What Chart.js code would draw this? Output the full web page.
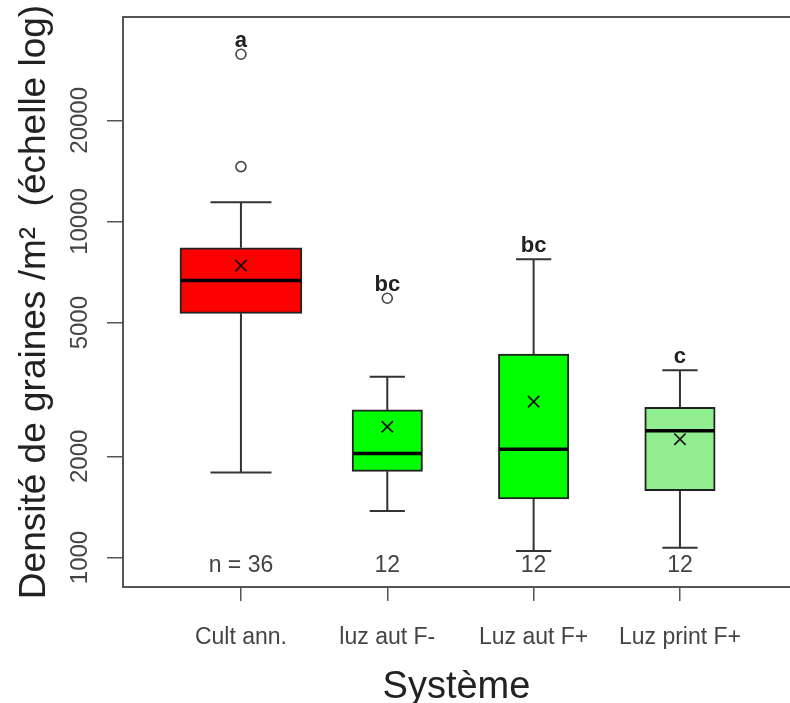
<!DOCTYPE html>
<html>
<head>
<meta charset="utf-8">
<script src="https://cdn.jsdelivr.net/npm/chart.js@4.4.1/dist/chart.umd.min.js"></script>
<style>
  html, body { margin: 0; padding: 0; background: #fff; overflow: hidden; }
</style>
</head>
<body>
<canvas id="boxChart" width="790" height="703"></canvas>
<script>
// systemes et effectifs
var categories = ['Cult ann.', 'luz aut F-', 'Luz aut F+', 'Luz print F+'];
var nObs = [36, 12, 12, 12];
var nLabels = ['n = 36', '12', '12', '12'];
var letters = ['a', 'bc', 'bc', 'c'];

// densite de graines /m2
var whiskerLow = [1790, 1375, 1045, 1070];
var q1 = [5330, 1805, 1495, 1580];
var median = [6670, 2040, 2100, 2385];
var q3 = [8350, 2750, 4030, 2800];
var whiskerHigh = [11400, 3450, 7720, 3610];
var mean = [7390, 2450, 2910, 2250];
var outliers = [[14560, 31450], [5910], [], []];

var yTicks = [1000, 2000, 5000, 10000, 20000];
var boxColors = ['#ff0000', '#00ff00', '#00ff00', '#90ee90'];

Chart.defaults.font.family = '"Liberation Sans", Arial, sans-serif';

// largeur proportionnelle a sqrt(n), comme varwidth dans R
var maxN = Math.max.apply(null, nObs);
function boxWidth(i) {
    return 122 * Math.sqrt(nObs[i] / maxN);
}

// pas de marge auto autour de la zone du graphe
function noPadding(s) {
    s.paddingTop = 0;
    s.paddingBottom = 0;
    s.paddingLeft = 0;
    s.paddingRight = 0;
}

var datasets = [];

categories.forEach(function (c, i) {
    datasets.push({
        type: 'bar',
        data: [{ x: i + 1, y: [q1[i], q3[i]] }],
        backgroundColor: boxColors[i],
        borderColor: '#222',
        borderWidth: 2,
        borderSkipped: false,
        barThickness: boxWidth(i),
        grouped: false,
        order: 6
    });
});

var stems = [];
var caps = [];
var capRadius = [];
var medians = [];
var medianRadius = [];
var means = [];
var outPts = [];
categories.forEach(function (c, i) {
    stems.push({ x: i + 1, y: q3[i] }, { x: i + 1, y: whiskerHigh[i] }, { x: i + 1, y: null });
    stems.push({ x: i + 1, y: whiskerLow[i] }, { x: i + 1, y: q1[i] }, { x: i + 1, y: null });
    caps.push({ x: i + 1, y: whiskerLow[i] }, { x: i + 1, y: whiskerHigh[i] });
    capRadius.push(boxWidth(i) / 4, boxWidth(i) / 4);
    medians.push({ x: i + 1, y: median[i] });
    medianRadius.push(boxWidth(i) / 2 - 1);
    means.push({ x: i + 1, y: mean[i] });
    outliers[i].forEach(function (v) {
        outPts.push({ x: i + 1, y: v });
    });
});

datasets.push({
    type: 'line',
    data: stems,
    borderColor: '#333',
    borderWidth: 2,
    pointRadius: 0,
    spanGaps: false,
    order: 5
});
datasets.push({
    type: 'line',
    data: caps,
    showLine: false,
    pointStyle: 'line',
    pointRadius: capRadius,
    pointBorderColor: '#333',
    pointBorderWidth: 2,
    order: 4
});
datasets.push({
    type: 'line',
    data: medians,
    showLine: false,
    pointStyle: 'line',
    pointRadius: medianRadius,
    pointBorderColor: '#000',
    pointBorderWidth: 3.5,
    order: 3
});
datasets.push({
    type: 'line',
    data: outPts,
    showLine: false,
    pointStyle: 'circle',
    pointRadius: 5,
    pointBorderColor: '#444',
    pointBackgroundColor: 'rgba(255,255,255,0)',
    pointBorderWidth: 1.6,
    order: 2
});
datasets.push({
    type: 'line',
    data: means,
    showLine: false,
    pointStyle: 'crossRot',
    pointRadius: 8,
    pointBorderColor: '#111',
    pointBorderWidth: 1.7,
    order: 1
});

// lettres de groupes et effectifs
var annotations = {
    id: 'annotations',
    afterDatasetsDraw: function (chart) {
        var ctx = chart.ctx;
        var xs = chart.scales.x;
        var ys = chart.scales.y;
        ctx.save();
        ctx.textAlign = 'center';
        ctx.textBaseline = 'middle';
        categories.forEach(function (c, i) {
            var x = xs.getPixelForValue(i + 1);
            var top = Math.max.apply(null, [whiskerHigh[i]].concat(outliers[i]));
            ctx.font = 'bold 22px "Liberation Sans", Arial, sans-serif';
            ctx.fillStyle = '#222';
            ctx.fillText(letters[i], x, ys.getPixelForValue(top) - 13);
            ctx.font = '23px "Liberation Sans", Arial, sans-serif';
            ctx.fillStyle = '#444';
            ctx.fillText(nLabels[i], x, chart.chartArea.bottom - 21);
        });
        ctx.restore();
    }
};

new Chart(document.getElementById('boxChart').getContext('2d'), {
    type: 'bar',
    data: { datasets: datasets },
    plugins: [annotations],
    options: {
        responsive: false,
        animation: false,
        layout: { padding: 0, autoPadding: false },
        plugins: {
            legend: { display: false },
            tooltip: { enabled: false }
        },
        scales: {
            x: {
                type: 'linear',
                min: 0.194,
                max: 4.752,
                bounds: 'data',
                offset: false,
                afterBuildTicks: function (s) {
                    s.ticks = categories.map(function (c, i) { return { value: i + 1 }; });
                },
                afterFit: function (s) { s.height = 116; noPadding(s); },
                ticks: {
                    callback: function (v, idx) { return categories[idx]; },
                    font: { size: 23 },
                    color: '#444',
                    padding: 23,
                    autoSkip: false,
                    maxRotation: 0
                },
                grid: { display: true, drawOnChartArea: false, tickLength: 14, color: '#555', lineWidth: 1.5, offset: false },
                border: { display: true, color: '#555', width: 2 },
                title: { display: true, text: 'Système', font: { size: 38, lineHeight: 0.8 }, color: '#222', padding: 0 }
            },
            x2: {
                type: 'linear',
                position: 'top',
                min: 0,
                max: 1,
                afterFit: function (s) { s.height = 17; noPadding(s); },
                ticks: { display: false },
                grid: { display: false, drawTicks: false },
                border: { display: true, color: '#555', width: 2 }
            },
            y: {
                type: 'logarithmic',
                min: 817,
                max: 40600,
                bounds: 'data',
                afterBuildTicks: function (s) {
                    s.ticks = yTicks.map(function (v) { return { value: v }; });
                },
                afterFit: function (s) { s.width = 123; noPadding(s); },
                ticks: {
                    callback: function (v) { return String(v); },
                    minRotation: 90,
                    maxRotation: 90,
                    crossAlign: 'center',
                    padding: -7,
                    font: { size: 24 },
                    color: '#444',
                    autoSkip: false
                },
                grid: { display: true, drawOnChartArea: false, tickLength: 16, color: '#555', lineWidth: 1.5 },
                border: { display: true, color: '#555', width: 2 },
                title: { display: true, text: 'Densité de graines /m²  (échelle log)', font: { size: 37 }, color: '#222', padding: { top: 13, bottom: 0 } }
            }
        }
    }
});
</script>
</body>
</html>
